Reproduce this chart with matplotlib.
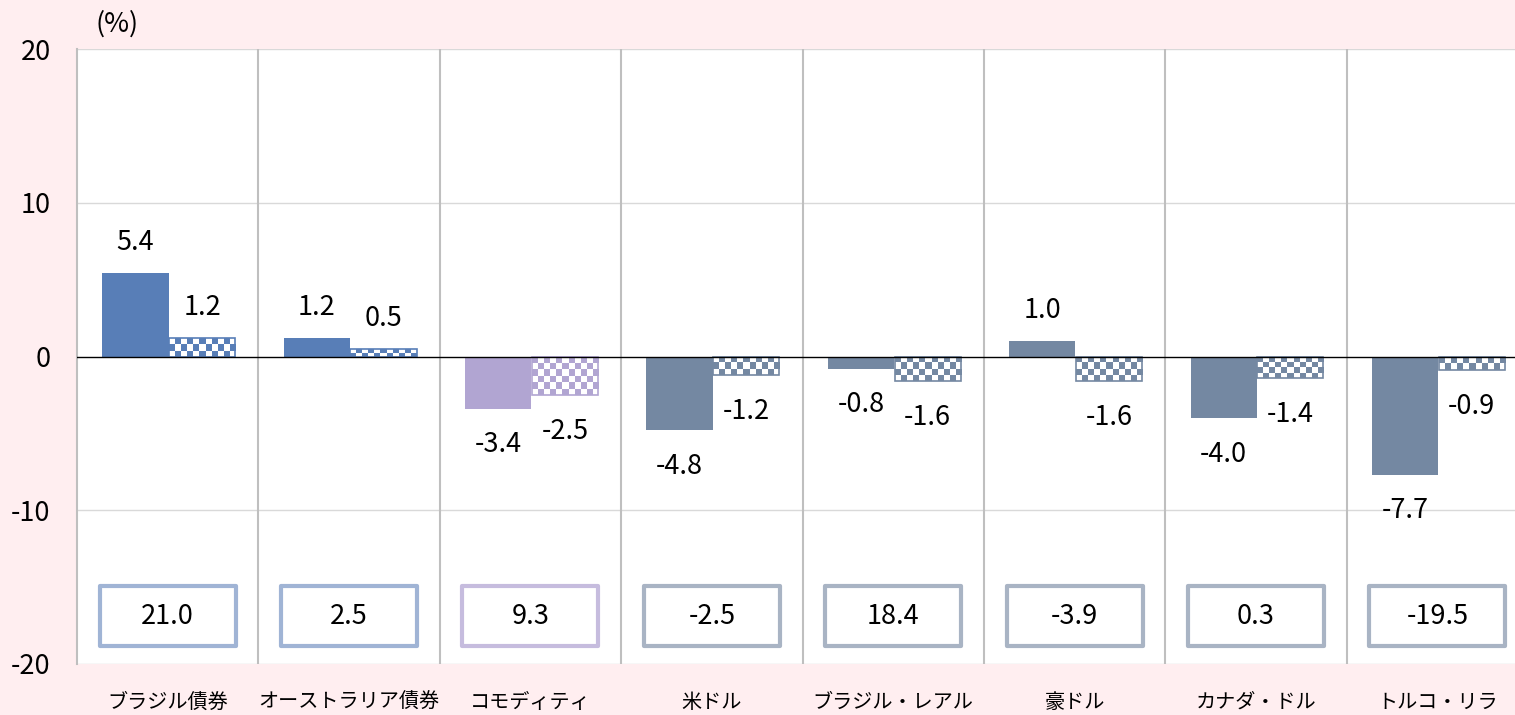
import numpy as np
import matplotlib
matplotlib.use("Agg")
import matplotlib.pyplot as plt
from matplotlib.colors import ListedColormap
from matplotlib.patches import Rectangle

plt.rcParams['font.family'] = ['Noto Sans CJK JP', 'DejaVu Sans']

# data
categories = ['ブラジル債券', 'オーストラリア債券', 'コモディティ', '米ドル',
              'ブラジル・レアル', '豪ドル', 'カナダ・ドル', 'トルコ・リラ']
solid_vals = [5.4, 1.2, -3.4, -4.8, -0.8, 1.0, -4.0, -7.7]
check_vals = [1.2, 0.5, -2.5, -1.2, -1.6, -1.6, -1.4, -0.9]
box_vals = [21.0, 2.5, 9.3, -2.5, 18.4, -3.9, 0.3, -19.5]

bar_colors = ['#587EB7', '#587EB7', '#B1A5D2', '#7488A2',
              '#7488A2', '#7488A2', '#7488A2', '#7488A2']
box_colors = ['#A0B4D5', '#A0B4D5', '#C6BCDE', '#A9B4C4',
              '#A9B4C4', '#A9B4C4', '#A9B4C4', '#A9B4C4']

fig = plt.figure(figsize=(15.15, 7.15), dpi=100, facecolor='#FFEEF0')
ax = fig.add_axes([77 / 1515, 51 / 715, 1451 / 1515, 615 / 715])
ax.set_facecolor('white')

x = np.arange(len(categories))
w = 0.365
solid = ax.bar(x - 0.178, solid_vals, w, color=bar_colors, zorder=3)
check = ax.bar(x + 0.19, check_vals, w, color='none', edgecolor=bar_colors,
               linewidth=1.2, zorder=4)

# checkered fill, clipped to each bar
for b, c in zip(check, bar_colors):
    x0, y0, bw, bh = b.get_x(), b.get_y(), b.get_width(), b.get_height()
    ncol = 11
    nrow = max(2, int(round(abs(bh) / 0.39)))
    grid = np.indices((nrow, ncol)).sum(axis=0) % 2
    cmap = ListedColormap(['white', c])
    im = ax.imshow(grid, cmap=cmap, extent=(x0, x0 + bw, y0, y0 + bh),
                   aspect='auto', interpolation='nearest', zorder=3)
    im.set_clip_path(b)

# value labels
for bars, vals in ((solid, solid_vals), (check, check_vals)):
    for b, v in zip(bars, vals):
        xc = b.get_x() + b.get_width() / 2
        off = 22 if v >= 0 else -26
        ax.annotate(f'{v:.1f}', (xc, v), xytext=(0, off), textcoords='offset points',
                    ha='center', va='center', fontsize=19.5, zorder=5)

# boxes with the third figure
for i, (v, c) in enumerate(zip(box_vals, box_colors)):
    ax.add_patch(Rectangle((i - 0.375, -18.85), 0.75, 3.95, facecolor='white',
                           edgecolor=c, linewidth=3, joinstyle='round', zorder=4))
    ax.text(i, -16.9, f'{v:.1f}', ha='center', va='center', fontsize=19.5, zorder=5)

ax.axhline(0, color='black', linewidth=1, zorder=5)
for yv in (10, -10, 20, -20):
    ax.axhline(yv, color='#D9D9D9', linewidth=1, zorder=1)
for xv in np.arange(0.5, 7.5, 1):
    ax.axvline(xv, color='#BFBFBF', linewidth=1.5, zorder=1)

ax.set_xlim(-0.5, 7.5)
ax.set_ylim(-20, 20)
ax.set_yticks([20, 10, 0, -10, -20])
ax.set_yticklabels(['20', '10', '0', '-10', '-20'])
ax.set_xticks(x)
ax.set_xticklabels(categories, fontsize=14.5)
ax.tick_params(axis='x', length=0, pad=20)
ax.tick_params(axis='y', length=0, pad=19, labelsize=19.5)
for s in ('top', 'right', 'bottom'):
    ax.spines[s].set_visible(False)
ax.spines['left'].set_color('#BFBFBF')
ax.spines['left'].set_linewidth(1.5)

fig.text(117 / 1515, 1 - 24 / 715, '(%)', ha='center', va='center', fontsize=19.5)

fig.savefig('out.png', dpi=100, facecolor=fig.get_facecolor())
